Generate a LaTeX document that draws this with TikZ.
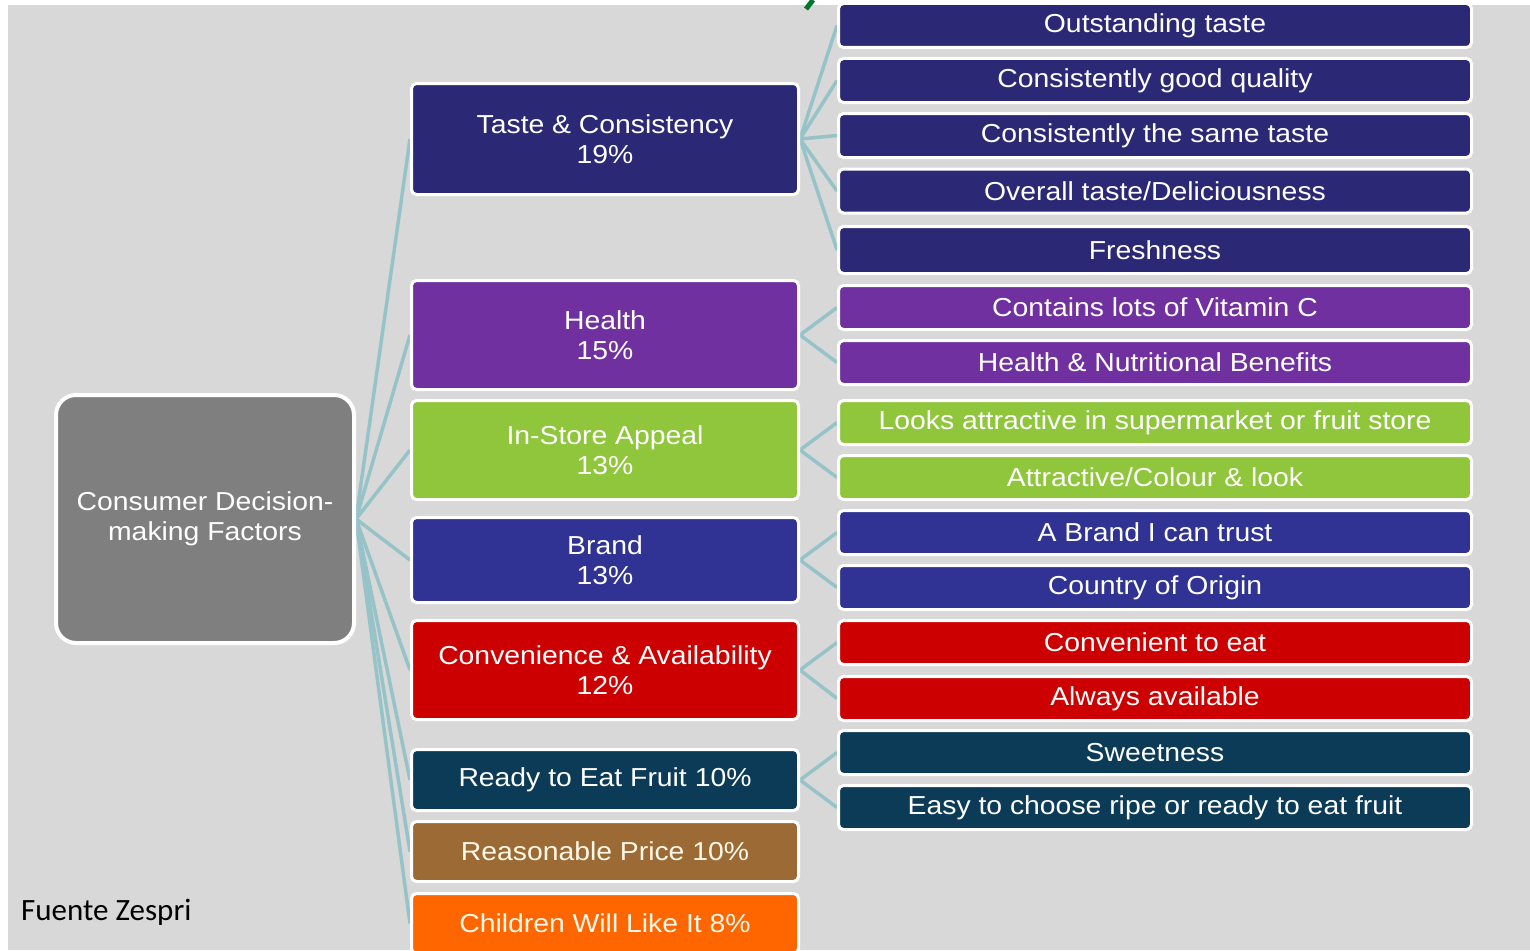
\documentclass[tikz,border=0pt]{standalone}
\usepackage{fontspec}
\setmainfont{Liberation Sans}[FakeStretch=1.09]
\newfontfamily\notefont{Carlito}

\definecolor{pagegray}{RGB}{216,216,216}
\definecolor{rootgray}{RGB}{127,127,127}
\definecolor{navy}{RGB}{43,41,117}
\definecolor{plum}{RGB}{112,48,160}
\definecolor{lime}{RGB}{143,198,60}
\definecolor{royal}{RGB}{48,50,148}
\definecolor{crimson}{RGB}{204,0,0}
\definecolor{petrol}{RGB}{12,59,87}
\definecolor{bronze}{RGB}{156,106,52}
\definecolor{tangerine}{RGB}{255,102,0}
\definecolor{linkc}{RGB}{150,195,200}
\definecolor{cream}{RGB}{255,248,232}
\definecolor{leafgreen}{RGB}{0,120,45}

\pgfdeclarelayer{links}
\pgfsetlayers{links,main}

\tikzset{
  box/.style={draw=white, line width=3pt, rounded corners=5pt, text=white,
    font=\fontsize{26}{30}\selectfont, align=center, inner sep=0pt},
  factor/.style={box, minimum width=387pt},
  detail/.style={box, minimum width=633pt, minimum height=44pt},
  link/.style={draw=linkc, line width=3.5pt},
}

\begin{document}
\begin{tikzpicture}[x=1pt,y=-1pt]
\useasboundingbox (0,0) rectangle (1530,950);

% root
\node[box, fill=rootgray, line width=4pt, rounded corners=20pt,
      minimum width=298pt, minimum height=248pt] (root) at (205,519)
      {Consumer Decision-\\making Factors};

% first level
\node[factor, fill=navy,      minimum height=111pt] (taste) at (605,139)   {Taste \& Consistency\\19\%};
\node[factor, fill=plum,      minimum height=109pt] (health) at (605,335)  {Health\\15\%};
\node[factor, fill=lime,      minimum height=99pt]  (store) at (605,450)   {In-Store Appeal\\13\%};
\node[factor, fill=royal,     minimum height=85pt]  (brand) at (605,560)   {Brand\\13\%};
\node[factor, fill=crimson,   minimum height=99pt]  (conv) at (605,670)    {Convenience \& Availability\\12\%};
\node[factor, fill=petrol,    minimum height=61pt]  (ready) at (605,780)   {Ready to Eat Fruit 10\%};
\node[factor, fill=bronze,    minimum height=60pt, text=cream] (price) at (605,851.5) {Reasonable Price 10\%};
\node[factor, fill=tangerine, minimum height=60pt, text=cream] (kids) at (605,923.5) {Children Will Like It 8\%};

% second level
\node[detail, fill=navy] (t1) at (1155,25.5) {Outstanding taste};
\node[detail, fill=navy] (t2) at (1155,80.5) {Consistently good quality};
\node[detail, fill=navy] (t3) at (1155,135.5) {Consistently the same taste};
\node[detail, fill=navy] (t4) at (1155,191)  {Overall taste/Deliciousness};
\node[detail, fill=navy, minimum height=47pt] (t5) at (1155,250) {Freshness};
\node[detail, fill=plum] (h1) at (1155,307.5) {Contains lots of Vitamin C};
\node[detail, fill=plum] (h2) at (1155,362.5) {Health \& Nutritional Benefits};
\node[detail, fill=lime] (s1) at (1155,422.5) {Looks attractive in supermarket or fruit store};
\node[detail, fill=lime] (s2) at (1155,477.5) {Attractive/Colour \& look};
\node[detail, fill=royal] (b1) at (1155,532.5) {A Brand I can trust};
\node[detail, fill=royal] (b2) at (1155,587.5) {Country of Origin};
\node[detail, fill=crimson] (c1) at (1155,642.5) {Convenient to eat};
\node[detail, fill=crimson] (c2) at (1155,698.5) {Always available};
\node[detail, fill=petrol] (r1) at (1155,752.5) {Sweetness};
\node[detail, fill=petrol] (r2) at (1155,807.5) {Easy to choose ripe or ready to eat fruit};

% source note
\node[anchor=west, inner sep=0pt, font=\notefont\fontsize{31}{36}\selectfont, text=black]
  (note) at (21,912) {Fuente Zespri};

% page backdrop and connectors
\begin{pgfonlayer}{links}
  \fill[white] (0,0) rectangle (1530,950);
  \fill[pagegray] (8,5) rectangle (1530,950);
  \draw[leafgreen, line width=5pt] (813,0) -- (806,9);
  \foreach \f in {taste,health,store,brand,conv,ready,price,kids}
    \draw[link] (root.east) -- (\f.west);
  \foreach \d in {t1,t2,t3,t4,t5} \draw[link] (taste.east) -- (\d.west);
  \foreach \d in {h1,h2} \draw[link] (health.east) -- (\d.west);
  \foreach \d in {s1,s2} \draw[link] (store.east) -- (\d.west);
  \foreach \d in {b1,b2} \draw[link] (brand.east) -- (\d.west);
  \foreach \d in {c1,c2} \draw[link] (conv.east) -- (\d.west);
  \foreach \d in {r1,r2} \draw[link] (ready.east) -- (\d.west);
\end{pgfonlayer}
\end{tikzpicture}
\end{document}
